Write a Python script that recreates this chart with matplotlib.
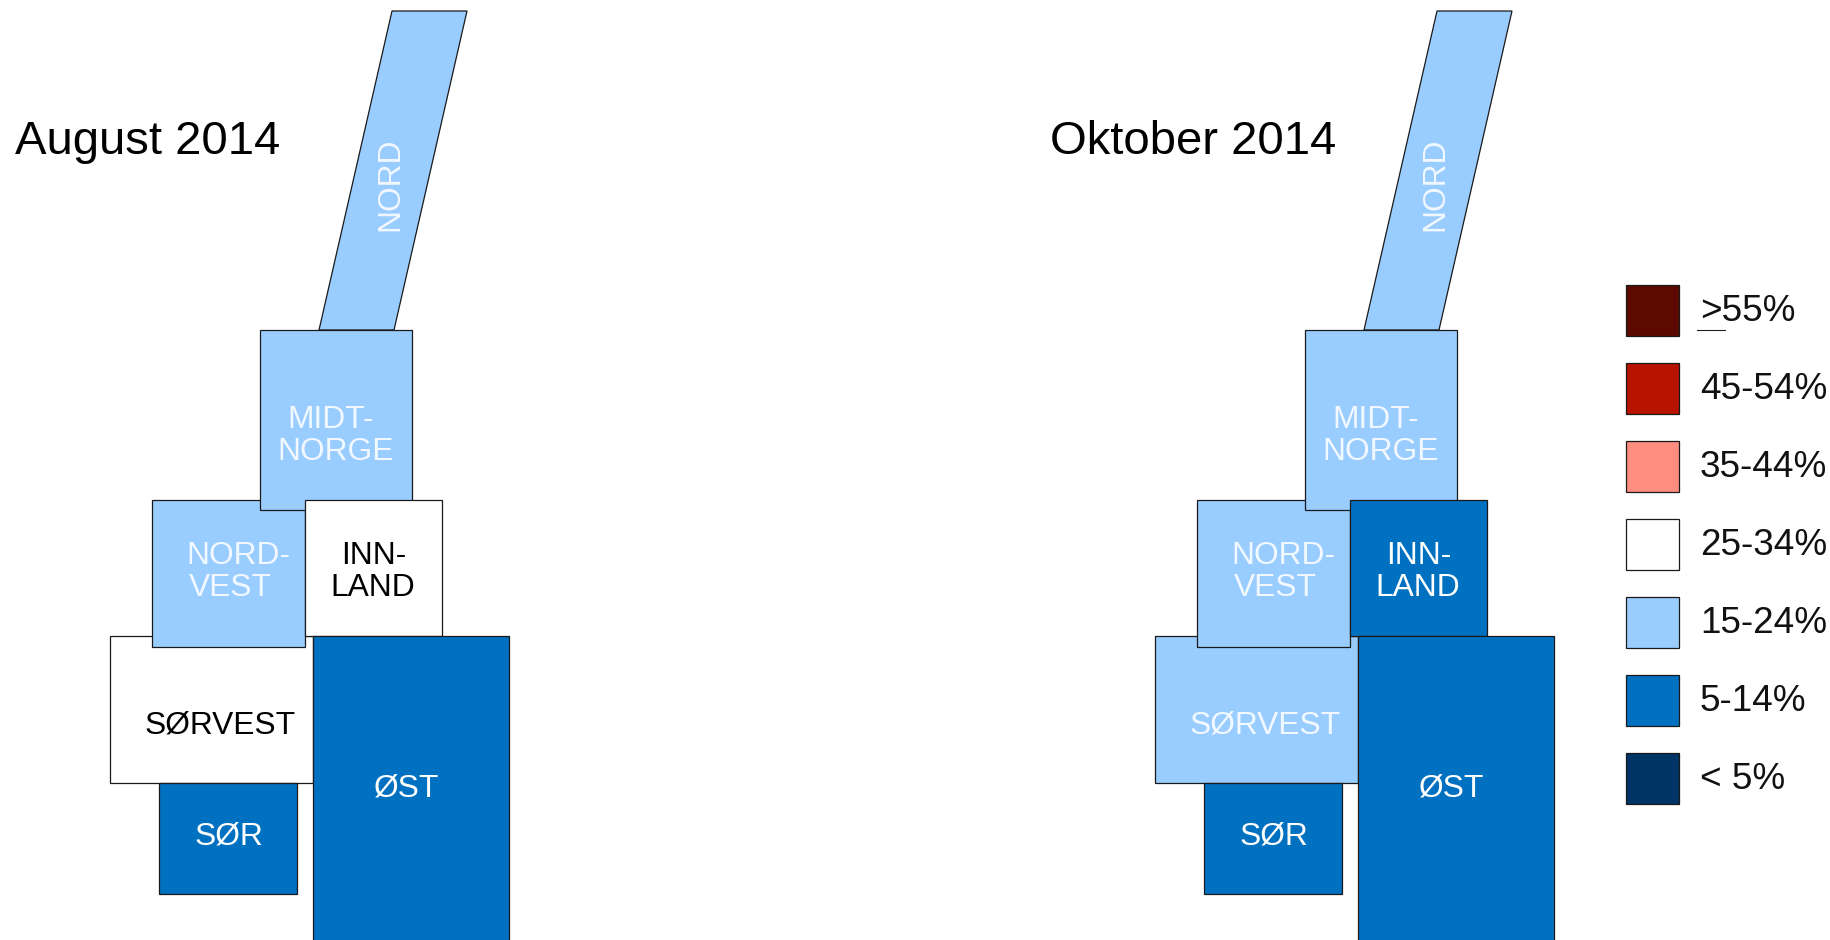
#!/usr/bin/env python3
import matplotlib
matplotlib.use("Agg")
import matplotlib.pyplot as plt
from matplotlib.patches import Polygon, Rectangle

plt.rcParams["font.family"] = ["Liberation Sans", "DejaVu Sans"]

# share of respondents, by class, per region
regions = ["NORD", "SØRVEST", "SØR", "NORDVEST", "MIDT-NORGE", "INNLAND", "ØST"]
august = ["15-24%", "25-34%", "5-14%", "15-24%", "15-24%", "25-34%", "5-14%"]
oktober = ["15-24%", "15-24%", "5-14%", "15-24%", "15-24%", "5-14%", "5-14%"]
classes = [">55%", "45-54%", "35-44%", "25-34%", "15-24%", "5-14%", "< 5%"]
colors = ["#5c0a00", "#b81200", "#ff8d80", "#ffffff", "#99ccff", "#0070c0", "#003366"]
months = ["August 2014", "Oktober 2014"]

# schematic map, pixel layout of the first panel
shapes = {
    "NORD": [(392, 11), (467, 11), (394, 330), (319, 330)],
    "SØRVEST": [(110, 636), (313, 636), (313, 782.5), (110, 782.5)],
    "SØR": [(159, 782.5), (296.5, 782.5), (296.5, 894), (159, 894)],
    "NORDVEST": [(152, 499.5), (305, 499.5), (305, 646.5), (152, 646.5)],
    "MIDT-NORGE": [(260, 330), (411.5, 330), (411.5, 509.5), (260, 509.5)],
    "INNLAND": [(305, 499.5), (442, 499.5), (442, 636), (305, 636)],
    "ØST": [(313, 636), (509, 636), (509, 960), (313, 960)],
}
labels = {
    "NORD": [("NORD", 390.5, 184)],
    "SØRVEST": [("SØRVEST", 220, 725.5)],
    "SØR": [("SØR", 228.5, 836.5)],
    "NORDVEST": [("NORD-", 238, 556.5), ("VEST", 230, 588)],
    "MIDT-NORGE": [("MIDT-", 331, 419.5), ("NORGE", 335.5, 451.5)],
    "INNLAND": [("INN-", 373.5, 556.5), ("LAND", 373, 588)],
    "ØST": [("ØST", 406.5, 788.5)],
}
PANEL_DX = 1045
TITLE_X = [15, 1050]


def draw_panel(ax, values, title, title_x, dx):
    ax.text(title_x, 154, title, fontsize=34, va="baseline", ha="left", color="black")
    for reg, val in zip(regions, values):
        col = colors[classes.index(val)]
        pts = [(x + dx, y) for x, y in shapes[reg]]
        ax.add_patch(Polygon(pts, closed=True, fc=col, ec="#1a1a1a", lw=0.9))
        txt_col = "black" if val == "25-34%" else "white"
        if val == "15-24%":
            txt_col = "#f2f8ff"
        for line, x, y in labels[reg]:
            ax.text(x + dx, y, line, fontsize=22.9, color=txt_col, ha="center", va="center",
                    rotation=90 if reg == "NORD" else 0)


fig = plt.figure(figsize=(18.3, 9.4), dpi=100)
ax = fig.add_axes([0, 0, 1, 1])
ax.set_xlim(0, 1830)
ax.set_ylim(940, 0)
ax.axis("off")

draw_panel(ax, august, months[0], TITLE_X[0], 0)
draw_panel(ax, oktober, months[1], TITLE_X[1], PANEL_DX)

# legend
for i, (lab, col) in enumerate(zip(classes, colors)):
    y0 = 284.5 + i * 78
    ax.add_patch(Rectangle((1626, y0), 52.5, 51.5, fc=col, ec="#1a1a1a", lw=0.9))
    ax.text(1700, y0 + 27, lab, fontsize=26.6, va="center", ha="left", color="#111111")
ax.plot([1697, 1725], [330, 330], color="#222222", lw=0.8)

fig.savefig("out.png", dpi=100)
